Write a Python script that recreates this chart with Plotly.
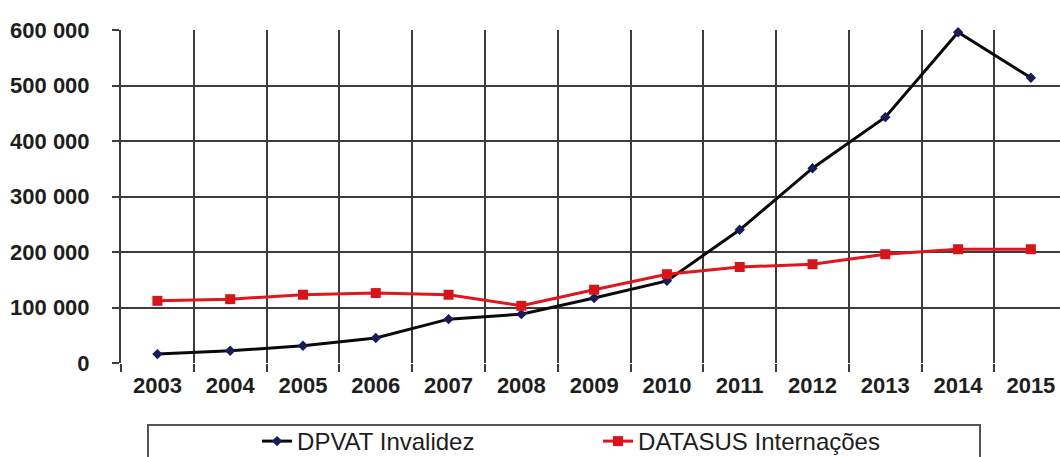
import plotly.graph_objects as go

years = ["2003", "2004", "2005", "2006", "2007", "2008", "2009",
         "2010", "2011", "2012", "2013", "2014", "2015"]
dpvat_invalidez = [16000, 22000, 31000, 45000, 79000, 88000, 117000,
                   148000, 240000, 351000, 443000, 596000, 514000]
datasus_internacoes = [112000, 115000, 123000, 126000, 123000, 103000, 132000,
                       160000, 173000, 178000, 196000, 205000, 205000]
y_ticks = [0, 100000, 200000, 300000, 400000, 500000, 600000]
y_tick_text = ["0", "100 000", "200 000", "300 000", "400 000", "500 000", "600 000"]

FONT = "Liberation Sans, Arial, sans-serif"

fig = go.Figure()
fig.add_trace(go.Scatter(
    x=years, y=dpvat_invalidez, name="DPVAT Invalidez", mode="lines+markers",
    line=dict(color="#0a0a0a", width=3),
    marker=dict(symbol="diamond", size=8, color="#1a1a5e"),
    cliponaxis=False,
))
fig.add_trace(go.Scatter(
    x=years, y=datasus_internacoes, name="DATASUS Internações", mode="lines+markers",
    line=dict(color="#e0161c", width=3),
    marker=dict(symbol="square", size=10, color="#d8141a"),
    cliponaxis=False,
))

grid_col = "#3c3c3c"
fig.update_layout(
    width=1060, height=457,
    margin=dict(l=121, r=0, t=30, b=94),
    plot_bgcolor="white", paper_bgcolor="white",
    font=dict(family=FONT, color="#1e1e1e"),
    xaxis=dict(
        type="category", range=[-0.5, 12.4], tickson="boundaries",
        showgrid=True, gridcolor=grid_col, gridwidth=2,
        ticks="outside", ticklen=8, tickwidth=2, tickcolor=grid_col,
        tickfont=dict(size=22, family=FONT, color="#1e1e1e", weight="bold"),
        ticklabelstandoff=7,
        showline=False, zeroline=False, fixedrange=True,
    ),
    yaxis=dict(
        range=[0, 600000], tickvals=y_ticks, ticktext=y_tick_text,
        showgrid=True, gridcolor=grid_col, gridwidth=2,
        ticks="outside", ticklen=7, tickwidth=2, tickcolor=grid_col,
        tickfont=dict(size=22, family=FONT, color="#1e1e1e", weight="bold"),
        showline=True, linecolor=grid_col, linewidth=2,
        zeroline=False, ticklabelstandoff=18,
    ),
    showlegend=True,
    legend=dict(
        orientation="h", xref="container", yref="container",
        x=0.2425, y=1 - 419 / 457, xanchor="left", yanchor="top",
        font=dict(size=24, family=FONT, color="#1e1e1e"),
        bgcolor="rgba(0,0,0,0)", entrywidth=296,
    ),
    shapes=[dict(
        type="rect", xref="paper", yref="paper",
        x0=(148 - 121) / 939, x1=(980 - 121) / 939,
        y0=-0.35, y1=(363 - 425) / 333,
        line=dict(color="#555555", width=2), fillcolor="rgba(0,0,0,0)", layer="below",
    )],
)

fig.write_html("out.html")
